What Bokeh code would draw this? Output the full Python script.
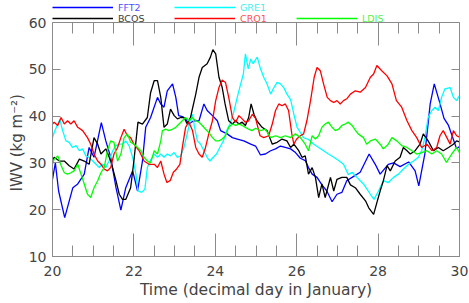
from bokeh.plotting import figure
from bokeh.models import (Legend, LegendItem, LinearAxis, SingleIntervalTicker,
                          Range1d)
from bokeh.embed import file_html
from bokeh.resources import INLINE

# ---------------- data ----------------
fft2_day = [20.00, 20.07, 20.15, 20.30, 20.50, 20.62, 20.78, 20.90, 21.02, 21.20,
            21.31, 21.43, 21.56, 21.68, 21.80, 21.97, 22.09, 22.21, 22.29, 22.41,
            22.58, 22.66, 22.74, 22.82, 22.95, 23.03, 23.10, 23.19, 23.27, 23.35,
            23.47, 23.60, 23.72, 23.80, 23.93, 24.05, 24.13, 24.29, 24.42, 24.54,
            24.70, 24.87, 24.99, 25.11, 25.23, 25.36, 25.48, 25.60, 25.72, 25.85,
            25.97, 26.09, 26.21, 26.29, 26.38, 26.50, 26.62, 26.74, 26.87, 26.99,
            27.11, 27.23, 27.36, 27.56, 27.78, 27.93, 28.05, 28.25, 28.38, 28.54,
            28.75, 28.91, 29.00, 29.15, 29.28, 29.38, 29.50, 29.62, 29.73, 29.85,
            29.93, 30.00]
fft2_val = [26.5, 30.0, 24.0, 18.3, 24.7, 25.5, 27.6, 33.3, 31.2, 38.6,
            34.7, 31.2, 24.7, 19.9, 24.7, 28.3, 24.0, 30.4, 37.6, 39.7,
            44.0, 42.6, 41.9, 45.4, 46.9, 44.0, 40.1, 39.9, 39.4, 38.3,
            39.0, 39.0, 42.6, 41.2, 40.1, 39.0, 36.9, 36.2, 35.4, 35.1,
            34.7, 34.0, 33.6, 31.7, 31.9, 32.6, 33.0, 33.6, 33.3, 33.0,
            32.2, 31.0, 30.5, 29.0, 27.6, 26.9, 25.3, 24.0, 21.7, 23.3,
            23.7, 26.2, 26.9, 28.0, 31.9, 29.7, 27.6, 29.7, 30.0, 29.2,
            30.2, 28.3, 25.1, 32.0, 42.6, 46.9, 43.3, 39.5, 38.0, 35.0,
            33.0, 33.5]

bcos_day = [20.00, 20.04, 20.17, 20.29, 20.41, 20.53, 20.66, 20.78, 20.90, 21.02,
            21.11, 21.19, 21.31, 21.43, 21.56, 21.64, 21.72, 21.80, 21.92, 22.00,
            22.10, 22.21, 22.33, 22.41, 22.50, 22.58, 22.66, 22.74, 22.82, 22.90,
            22.99, 23.07, 23.15, 23.23, 23.31, 23.39, 23.52, 23.60, 23.68, 23.80,
            23.88, 23.94, 24.01, 24.09, 24.17, 24.24, 24.33, 24.42, 24.50, 24.58,
            24.66, 24.74, 24.82, 24.88, 24.95, 25.02, 25.15, 25.27, 25.40, 25.52,
            25.64, 25.76, 25.85, 25.93, 26.05, 26.13, 26.21, 26.29, 26.38, 26.46,
            26.54, 26.62, 26.70, 26.83, 26.91, 26.99, 27.11, 27.23, 27.32, 27.44,
            27.56, 27.69, 27.77, 27.89, 27.97, 28.05, 28.13, 28.22, 28.30, 28.42,
            28.54, 28.62, 28.71, 28.79, 28.91, 29.03, 29.11, 29.23, 29.36, 29.48,
            29.60, 29.73, 29.85, 29.93, 30.00]
bcos_val = [30.4, 31.2, 30.4, 30.4, 29.4, 28.7, 30.8, 30.4, 29.7, 35.4,
            34.0, 31.9, 33.0, 30.4, 26.2, 23.3, 22.2, 22.2, 24.7, 30.4,
            38.7, 38.3, 39.7, 45.0, 47.6, 47.6, 44.0, 37.6, 38.3, 41.5,
            40.1, 39.4, 39.7, 39.7, 38.3, 39.7, 44.7, 48.3, 50.4, 51.2,
            52.6, 54.2, 53.3, 48.3, 46.1, 42.6, 39.0, 38.3, 39.0, 38.3,
            38.7, 38.0, 39.7, 42.6, 40.4, 39.0, 37.6, 36.9, 34.0, 34.4,
            35.1, 34.7, 33.3, 34.0, 32.6, 31.2, 31.5, 27.6, 29.0, 26.9,
            22.6, 25.5, 22.6, 26.9, 24.0, 26.5, 26.9, 26.9, 25.3, 24.7,
            23.3, 21.9, 20.4, 19.0, 21.5, 24.0, 26.2, 29.4, 28.3, 30.4,
            31.2, 33.3, 32.6, 31.9, 32.6, 34.0, 36.2, 34.7, 32.6, 33.3,
            32.6, 33.3, 34.0, 34.7, 34.5]

gre1_day = [20.00, 20.04, 20.13, 20.18, 20.25, 20.33, 20.41, 20.49, 20.58, 20.66,
            20.74, 20.82, 20.90, 20.99, 21.07, 21.15, 21.23, 21.31, 21.39, 21.48,
            21.56, 21.64, 21.72, 21.80, 21.88, 21.97, 22.05, 22.10, 22.19, 22.27,
            22.33, 22.41, 22.50, 22.58, 22.66, 22.74, 22.82, 22.90, 22.99, 23.07,
            23.15, 23.23, 23.31, 23.38, 23.44, 23.49, 23.56, 23.64, 23.72, 23.80,
            23.87, 23.95, 24.03, 24.11, 24.20, 24.28, 24.36, 24.44, 24.52, 24.60,
            24.69, 24.74, 24.81, 24.87, 24.93, 25.03, 25.10, 25.19, 25.27, 25.36,
            25.44, 25.52, 25.60, 25.68, 25.76, 25.85, 25.93, 26.01, 26.09, 26.17,
            26.29, 26.42, 26.54, 26.66, 26.78, 26.91, 27.03, 27.15, 27.27, 27.36,
            27.48, 27.64, 27.81, 27.90, 28.01, 28.13, 28.25, 28.38, 28.50, 28.62,
            28.75, 28.87, 28.99, 29.07, 29.15, 29.23, 29.32, 29.40, 29.48, 29.56,
            29.64, 29.77, 29.85, 29.93, 30.00]
gre1_val = [35.4, 36.5, 38.3, 39.2, 36.9, 34.7, 34.4, 33.3, 33.7, 32.6,
            33.0, 31.5, 31.2, 30.4, 29.7, 29.0, 29.7, 29.0, 30.4, 32.6,
            33.7, 34.0, 34.0, 34.7, 33.7, 31.2, 27.6, 24.0, 23.7, 24.4,
            29.0, 30.6, 31.9, 31.2, 31.9, 31.2, 31.9, 31.5, 32.2, 31.2,
            31.5, 33.3, 36.2, 39.0, 40.4, 37.6, 34.7, 34.0, 32.6, 31.2,
            30.4, 31.2, 31.9, 33.3, 34.7, 36.9, 38.3, 40.4, 43.3, 46.1,
            49.0, 53.3, 50.1, 52.2, 51.2, 52.6, 50.4, 48.3, 46.9, 44.7,
            46.1, 47.2, 46.9, 46.1, 44.7, 43.5, 40.4, 37.6, 36.5, 35.4,
            35.0, 34.0, 33.3, 32.6, 31.9, 31.2, 30.5, 29.7, 27.5, 28.0,
            26.9, 25.5, 23.3, 22.2, 24.0, 26.2, 25.8, 26.9, 27.6, 28.7,
            29.7, 30.4, 31.2, 32.6, 35.4, 39.7, 41.2, 41.9, 41.2, 44.0,
            45.8, 46.1, 44.0, 43.3, 44.4]

cro1_day = [20.00, 20.04, 20.13, 20.21, 20.29, 20.37, 20.45, 20.53, 20.62, 20.74,
            20.86, 20.94, 21.02, 21.11, 21.19, 21.27, 21.35, 21.43, 21.51, 21.60,
            21.68, 21.76, 21.84, 21.92, 22.00, 22.13, 22.25, 22.37, 22.50, 22.58,
            22.66, 22.74, 22.81, 22.89, 22.97, 23.05, 23.13, 23.19, 23.27, 23.35,
            23.44, 23.52, 23.60, 23.68, 23.76, 23.84, 23.93, 24.01, 24.09, 24.17,
            24.25, 24.33, 24.42, 24.50, 24.58, 24.66, 24.74, 24.82, 24.91, 24.99,
            25.10, 25.19, 25.31, 25.40, 25.48, 25.56, 25.64, 25.72, 25.80, 25.88,
            25.93, 26.00, 26.09, 26.17, 26.25, 26.34, 26.43, 26.50, 26.58, 26.66,
            26.75, 26.83, 26.91, 26.99, 27.07, 27.15, 27.23, 27.32, 27.44, 27.56,
            27.69, 27.81, 27.89, 27.97, 28.09, 28.22, 28.34, 28.45, 28.58, 28.71,
            28.83, 28.95, 29.07, 29.20, 29.32, 29.44, 29.52, 29.60, 29.69, 29.77,
            29.85, 29.93, 30.00]
cro1_val = [38.3, 38.7, 38.0, 39.7, 38.3, 39.0, 38.3, 39.0, 37.6, 36.9,
            35.4, 34.0, 31.9, 30.4, 29.7, 28.7, 28.3, 29.0, 31.9, 33.3,
            35.4, 37.2, 35.8, 35.4, 34.0, 32.6, 30.4, 29.7, 29.7, 29.0,
            30.4, 27.6, 25.8, 26.2, 28.0, 28.7, 29.7, 33.3, 37.6, 38.7,
            36.9, 33.3, 31.9, 31.2, 33.3, 36.2, 39.0, 43.3, 46.1, 47.7,
            47.2, 44.0, 39.7, 38.7, 40.1, 39.4, 38.7, 39.0, 40.4, 39.5,
            35.8, 35.4, 35.8, 38.3, 41.2, 42.6, 42.2, 42.6, 41.2, 36.2,
            34.0, 35.1, 35.8, 36.2, 39.0, 43.3, 48.3, 50.4, 49.7, 46.9,
            44.0, 43.3, 42.9, 43.3, 42.6, 43.3, 43.7, 44.7, 45.4, 45.1,
            46.1, 48.3, 49.0, 50.8, 49.7, 48.6, 46.9, 43.3, 41.9, 39.0,
            36.9, 35.4, 33.3, 34.0, 32.6, 33.3, 35.8, 36.9, 35.4, 34.0,
            36.9, 35.8, 35.5]

ldis_day = [20.00, 20.04, 20.13, 20.21, 20.29, 20.37, 20.45, 20.53, 20.62, 20.70,
            20.78, 20.86, 20.94, 21.02, 21.11, 21.19, 21.27, 21.35, 21.43, 21.51,
            21.60, 21.68, 21.76, 21.84, 21.92, 22.00, 22.09, 22.17, 22.25, 22.33,
            22.41, 22.50, 22.58, 22.66, 22.70, 22.78, 22.86, 22.95, 23.03, 23.11,
            23.19, 23.27, 23.35, 23.43, 23.52, 23.60, 23.68, 23.76, 23.84, 23.93,
            24.01, 24.09, 24.17, 24.25, 24.33, 24.42, 24.50, 24.58, 24.66, 24.74,
            24.82, 24.90, 24.99, 25.11, 25.23, 25.36, 25.48, 25.60, 25.72, 25.85,
            25.97, 26.09, 26.21, 26.29, 26.38, 26.46, 26.54, 26.62, 26.70, 26.78,
            26.87, 26.95, 27.03, 27.11, 27.19, 27.27, 27.36, 27.44, 27.51, 27.64,
            27.72, 27.81, 27.93, 28.05, 28.13, 28.25, 28.34, 28.46, 28.58, 28.71,
            28.83, 28.95, 29.07, 29.20, 29.32, 29.44, 29.56, 29.68, 29.81, 29.93,
            30.00]
ldis_val = [29.7, 30.8, 31.5, 29.5, 27.9, 27.6, 27.9, 28.3, 29.7, 27.6,
            25.5, 23.3, 22.6, 24.7, 26.2, 27.9, 29.0, 32.6, 34.7, 34.4,
            30.4, 31.9, 35.4, 36.2, 34.4, 34.0, 33.3, 32.6, 31.2, 30.4,
            30.0, 32.6, 31.9, 34.7, 36.9, 37.2, 36.9, 37.2, 37.6, 38.3,
            39.0, 39.7, 39.0, 39.7, 39.0, 38.7, 38.0, 37.2, 36.5, 35.4,
            34.7, 34.7, 35.1, 35.8, 37.6, 38.3, 38.0, 38.3, 38.0, 37.6,
            37.2, 36.9, 37.4, 36.9, 37.2, 35.4, 35.8, 35.4, 35.8, 35.4,
            36.2, 35.4, 34.0, 32.6, 35.8, 35.1, 35.8, 37.6, 38.3, 38.7,
            37.6, 36.9, 37.2, 38.0, 38.3, 38.7, 38.0, 37.0, 36.2, 35.4,
            34.0, 34.7, 35.1, 34.0, 33.0, 34.0, 35.4, 34.7, 33.7, 33.3,
            32.6, 31.9, 32.2, 32.6, 31.9, 32.6, 31.9, 30.1, 31.9, 33.3,
            32.2]

series_names = ["FFT2", "GRE1", "BCOS", "CRO1", "LDIS"]
series_colors = ["#0000ff", "#00ffff", "#000000", "#ff0000", "#00ff00"]
label_colors = ["#5050ff", "#40f0f0", "#404040", "#ff5050", "#50f050"]
series_days = [fft2_day, gre1_day, bcos_day, cro1_day, ldis_day]
series_vals = [fft2_val, gre1_val, bcos_val, cro1_val, ldis_val]

x_title = "Time (decimal day in January)"
# trailing no-break spaces push the rotated title down to sit on the 10-60 box
y_title = "IWV (kg m\u207b\u00b2)" + "\u00a0" * 6

# ---------------- layout constants ----------------
W, H = 469, 303
BORDER_L, BORDER_R, BORDER_B = 52, 10, 47
FRAME_H = H - BORDER_B              # frame runs from the very top of the figure
STRIP = 22                          # legend strip above the y=60 line
Y0, Y1 = 10, 60
Y_TOP = Y1 + STRIP * (Y1 - Y0) / (FRAME_H - STRIP)

FONT = "DejaVu Sans"
AX = "#8a8a8a"
TXT = "#444444"

p = figure(width=W, height=H, output_backend="svg", toolbar_location=None,
           x_range=Range1d(20, 30), y_range=Range1d(Y0, Y_TOP),
           min_border_left=BORDER_L, min_border_right=BORDER_R,
           min_border_top=0, min_border_bottom=BORDER_B,
           background_fill_color="white", border_fill_color="white")
p.outline_line_color = None
p.xgrid.visible = False
p.ygrid.visible = False

xt = SingleIntervalTicker(interval=2, num_minor_ticks=4)
yt = SingleIntervalTicker(interval=10, num_minor_ticks=0)


def style_x(ax):
    ax.ticker = xt
    ax.axis_line_color = AX
    ax.major_tick_line_color = AX
    ax.minor_tick_line_color = AX
    ax.major_tick_in = 23
    ax.major_tick_out = 0
    ax.minor_tick_in = 11
    ax.minor_tick_out = 0


def style_y(ax):
    ax.ticker = yt
    ax.bounds = (Y0, Y1)
    ax.axis_line_color = AX
    ax.major_tick_line_color = AX
    ax.minor_tick_line_color = None
    ax.major_tick_in = 8
    ax.major_tick_out = 0
    ax.minor_tick_in = 0
    ax.minor_tick_out = 0


xa = p.xaxis[0]
style_x(xa)
xa.major_label_text_font = FONT
xa.major_label_text_font_size = "14px"
xa.major_label_text_color = TXT
xa.major_label_standoff = 9
xa.axis_label = x_title
xa.axis_label_text_font = FONT
xa.axis_label_text_font_size = "15.5px"
xa.axis_label_text_font_style = "normal"
xa.axis_label_text_color = TXT
xa.axis_label_standoff = 2

ya = p.yaxis[0]
style_y(ya)
ya.major_label_text_font = FONT
ya.major_label_text_font_size = "14px"
ya.major_label_text_color = TXT
ya.major_label_standoff = 6
ya.axis_label = y_title
ya.axis_label_text_font = FONT
ya.axis_label_text_font_size = "15px"
ya.axis_label_text_font_style = "normal"
ya.axis_label_text_color = TXT
ya.axis_label_standoff = 0

# top edge of the box: an x axis fixed at y = 60, ticks pointing down
top = LinearAxis(fixed_location=Y1)
style_x(top)
top.major_label_text_color = None
top.major_label_text_font_size = "0px"
top.major_label_standoff = 0
p.add_layout(top, "above")

right = LinearAxis()
style_y(right)
right.major_label_text_color = None
right.major_label_text_font_size = "0px"
right.major_label_standoff = 0
p.add_layout(right, "right")

renderers = []
for d, v, c in zip(series_days, series_vals, series_colors):
    renderers.append(p.line(d, v, line_color=c, line_width=1.3))

# legend: two rows in the strip above y=60 (px offsets from frame bottom-left)
ITEM_H = 14
row1 = FRAME_H - (7 + ITEM_H / 2)
row2 = FRAME_H - (18 + ITEM_H / 2)
leg_pos = [(0, row1), (122, row1), (0, row2), (122, row2), (244, row2)]
for name, r, lc, pos in zip(series_names, renderers, label_colors, leg_pos):
    leg = Legend(items=[LegendItem(label=name, renderers=[r])], location=pos,
                 glyph_width=61, glyph_height=ITEM_H, label_height=ITEM_H,
                 label_standoff=5, padding=0, margin=0, spacing=0,
                 label_text_font=FONT, label_text_font_size="9.5px",
                 label_text_color=lc, label_text_baseline="alphabetic",
                 border_line_color=None, background_fill_alpha=0)
    p.add_layout(leg)

open("out.html", "w").write(file_html(p, INLINE))
